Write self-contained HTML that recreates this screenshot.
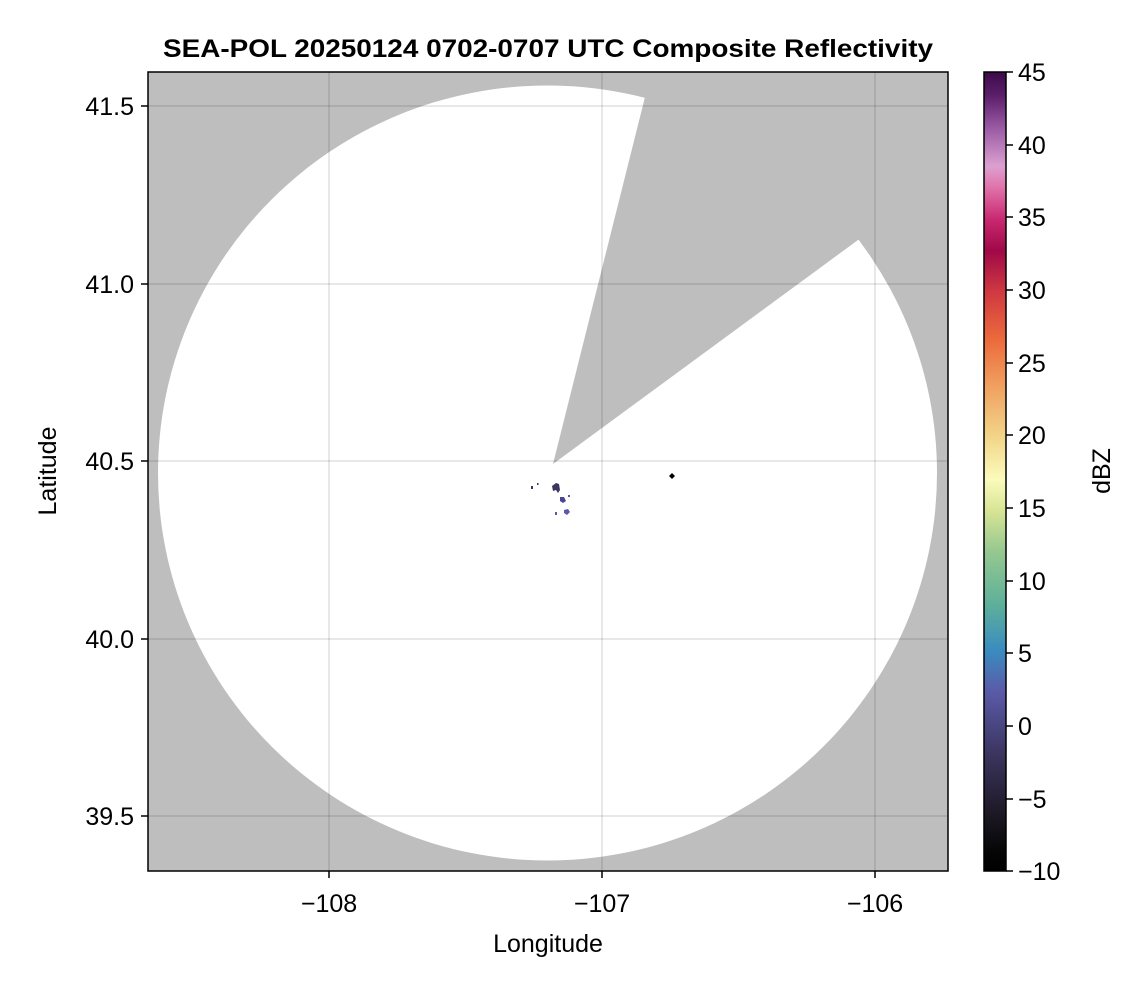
<!DOCTYPE html>
<html><head><meta charset="utf-8"><style>
html,body{margin:0;padding:0;background:#fff}
svg{display:block}
text{font-family:"Liberation Sans",Arial,sans-serif;fill:#000}
</style></head><body>
<svg width="1146" height="990" viewBox="0 0 1146 990" xmlns="http://www.w3.org/2000/svg">
<defs>
<linearGradient id="cb" x1="0" y1="0" x2="0" y2="1">
<stop offset="0" stop-color="#3d0a4a"/>
<stop offset="0.03" stop-color="#5c1f6b"/>
<stop offset="0.07" stop-color="#9a5aa4"/>
<stop offset="0.118" stop-color="#dca0d0"/>
<stop offset="0.146" stop-color="#e070a8"/>
<stop offset="0.185" stop-color="#c8286f"/>
<stop offset="0.224" stop-color="#a00848"/>
<stop offset="0.276" stop-color="#d03a40"/>
<stop offset="0.335" stop-color="#ec6a3c"/>
<stop offset="0.393" stop-color="#f0a060"/>
<stop offset="0.458" stop-color="#f2d68a"/>
<stop offset="0.51" stop-color="#fbfbbc"/>
<stop offset="0.55" stop-color="#d6e494"/>
<stop offset="0.60" stop-color="#96c890"/>
<stop offset="0.666" stop-color="#5eb09a"/>
<stop offset="0.724" stop-color="#3a8cc0"/>
<stop offset="0.776" stop-color="#5a5aa8"/>
<stop offset="0.853" stop-color="#3c3560"/>
<stop offset="0.925" stop-color="#1e1a28"/>
<stop offset="0.977" stop-color="#050505"/>
<stop offset="1" stop-color="#000"/>
</linearGradient>
<clipPath id="pc"><rect x="148" y="72" width="800" height="799"/></clipPath>
</defs>
<text x="548" y="57" font-size="25" font-weight="bold" text-anchor="middle" textLength="770" lengthAdjust="spacingAndGlyphs">SEA-POL 20250124 0702-0707 UTC Composite Reflectivity</text>
<g clip-path="url(#pc)">
<rect x="148" y="72" width="800" height="799" fill="#bebebe"/>
<ellipse cx="547.5" cy="473" rx="389.5" ry="387.5" fill="#fff"/>
<polygon points="553,464 645,97 660,40 960,40 960,165 858,240" fill="#bebebe"/>
<g stroke="#000" stroke-opacity="0.12" stroke-width="1.5">
<line x1="329" y1="72" x2="329" y2="871"/>
<line x1="602" y1="72" x2="602" y2="871"/>
<line x1="875" y1="72" x2="875" y2="871"/>
<line x1="148" y1="106" x2="948" y2="106"/>
<line x1="148" y1="284" x2="948" y2="284"/>
<line x1="148" y1="461" x2="948" y2="461"/>
<line x1="148" y1="639" x2="948" y2="639"/>
<line x1="148" y1="816" x2="948" y2="816"/>
</g>
<path d="M552,486 l4,-3 l3,1 l1,6 l-2,3 l-2,-3 l-3,1z" fill="#3c3560"/>
<path d="M560,497 l4,0 l2,4 l-3,2 l-3,-2z" fill="#4a4590"/>
<path d="M564,510 l4,-1 l2,3 l-3,3 l-3,-2z" fill="#5a5aa8"/>
<rect x="531" y="486" width="2" height="3" fill="#3c3560"/>
<rect x="537" y="483" width="1.5" height="2" fill="#3c3560"/>
<rect x="568" y="495" width="2" height="2" fill="#5a5aa8"/>
<rect x="555" y="512" width="2" height="3" fill="#5a5aa8"/>
<polygon points="672,473 675,476 672,479 669,476" fill="#000"/>
</g>
<rect x="148" y="72" width="800" height="799" fill="none" stroke="#000" stroke-width="1.5"/>
<g stroke="#000" stroke-width="1.5">
<line x1="141" y1="106" x2="148" y2="106"/><line x1="141" y1="284" x2="148" y2="284"/>
<line x1="141" y1="461" x2="148" y2="461"/><line x1="141" y1="639" x2="148" y2="639"/>
<line x1="141" y1="816" x2="148" y2="816"/>
<line x1="329" y1="871" x2="329" y2="878"/><line x1="602" y1="871" x2="602" y2="878"/>
<line x1="875" y1="871" x2="875" y2="878"/>
</g>
<g font-size="25" text-anchor="end">
<text x="134" y="115">41.5</text><text x="134" y="293">41.0</text><text x="134" y="470">40.5</text>
<text x="134" y="648">40.0</text><text x="134" y="825">39.5</text>
</g>
<g font-size="25" text-anchor="middle">
<text x="329" y="912">−108</text><text x="602" y="912">−107</text><text x="875" y="912">−106</text>
</g>
<text x="548" y="952" font-size="25" text-anchor="middle">Longitude</text>
<text transform="translate(56,471) rotate(-90)" font-size="25" text-anchor="middle">Latitude</text>
<rect x="984" y="72" width="22" height="799" fill="url(#cb)" stroke="#000" stroke-width="1.5"/>
<g stroke="#000" stroke-width="1.5">
<line x1="1006" y1="72" x2="1013" y2="72"/><line x1="1006" y1="145" x2="1013" y2="145"/>
<line x1="1006" y1="217" x2="1013" y2="217"/><line x1="1006" y1="290" x2="1013" y2="290"/>
<line x1="1006" y1="363" x2="1013" y2="363"/><line x1="1006" y1="435" x2="1013" y2="435"/>
<line x1="1006" y1="508" x2="1013" y2="508"/><line x1="1006" y1="581" x2="1013" y2="581"/>
<line x1="1006" y1="653" x2="1013" y2="653"/><line x1="1006" y1="726" x2="1013" y2="726"/>
<line x1="1006" y1="799" x2="1013" y2="799"/><line x1="1006" y1="871" x2="1013" y2="871"/>
</g>
<g font-size="25">
<text x="1018" y="81">45</text><text x="1018" y="154">40</text><text x="1018" y="226">35</text>
<text x="1018" y="299">30</text><text x="1018" y="372">25</text><text x="1018" y="444">20</text>
<text x="1018" y="517">15</text><text x="1018" y="590">10</text><text x="1018" y="662">5</text>
<text x="1018" y="735">0</text><text x="1018" y="808">−5</text><text x="1018" y="880">−10</text>
</g>
<text transform="translate(1110,471) rotate(-90)" font-size="25" text-anchor="middle">dBZ</text>
</svg>
</body></html>
